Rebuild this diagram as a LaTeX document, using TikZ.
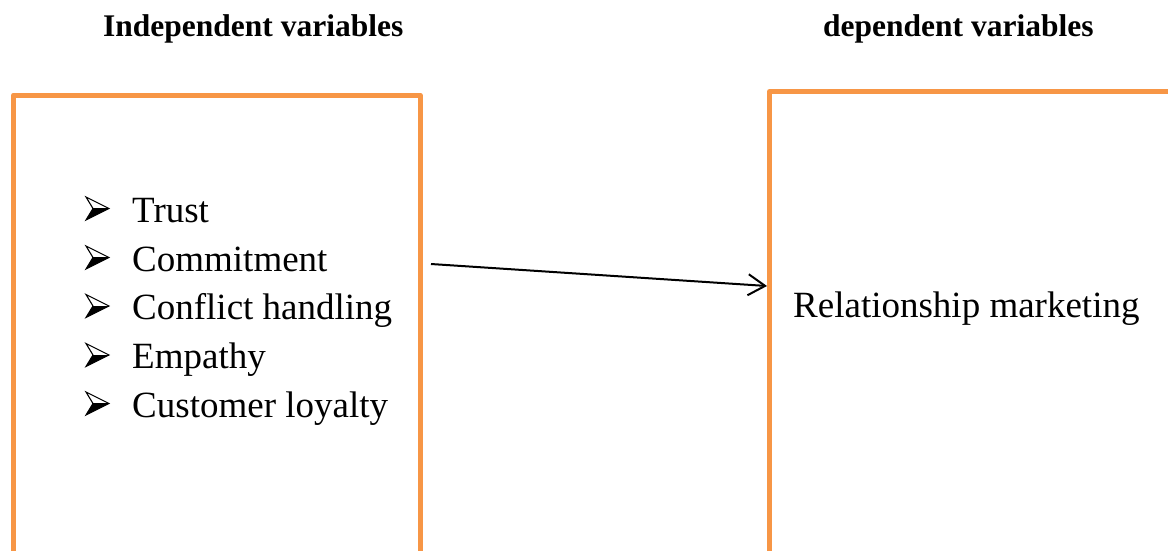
\documentclass[tikz,border=0pt]{standalone}
\usepackage{fontspec}
\setmainfont{Liberation Serif}
\usetikzlibrary{arrows.meta}
\definecolor{boxorange}{HTML}{F79646}
\tikzset{
  frame/.style={draw=boxorange, line width=5pt, line join=round, outer sep=0pt, inner sep=0pt},
  head/.style={font=\fontsize{31.5}{38}\selectfont\bfseries, anchor=base west, inner sep=0pt},
  item/.style={font=\fontsize{37}{44}\selectfont, anchor=base west, inner sep=0pt},
  conn/.style={draw=black, line width=2pt, -{Straight Barb[length=17pt,width=21pt,line width=2pt]}},
  bul/.pic={
    \fill[black] (7,0) -- (23,0) -- (0,11.5) -- cycle;
    \draw[black, line width=1.1pt, line join=miter] (0,-11.5) -- (23,0) -- (0,11.5) -- (7,0) -- cycle;
    \draw[black, line width=0.8pt] (7,0) -- (23,0);
  }
}
\begin{document}
\begin{tikzpicture}[x=1pt,y=-1pt]
\useasboundingbox (0,0) rectangle (1168,550);
\clip (0,0) rectangle (1168,550);
% boxes
\node[frame, anchor=north west, minimum width=406.5pt, minimum height=600pt] (L) at (13.5,95) {};
\node[frame, anchor=north west, minimum width=600pt, minimum height=600pt] (R) at (769.5,91.5) {};
% headings
\node[head] (h1) at (103,36) {Independent variables};
\node[head] (h2) at (823,36) {dependent variables};
% list
\node[item] (t1) at (132,222) {Trust};
\node[item] (t2) at (132,271) {Commitment};
\node[item] (t3) at (132,319.5) {Conflict handling};
\node[item] (t4) at (132,368.5) {Empathy};
\node[item] (t5) at (132,417) {Customer loyalty};
\foreach \y in {222,271,319.5,368.5,417} {
  \pic at (86,\y-13.5) {bul};
}
% dependent
\node[item] (dv) at (793,317) {Relationship marketing};
% connector
\coordinate (a1) at (431,264);
\coordinate (a2) at (767,286);
\draw[conn] (a1) -- (a2);
\end{tikzpicture}
\end{document}
